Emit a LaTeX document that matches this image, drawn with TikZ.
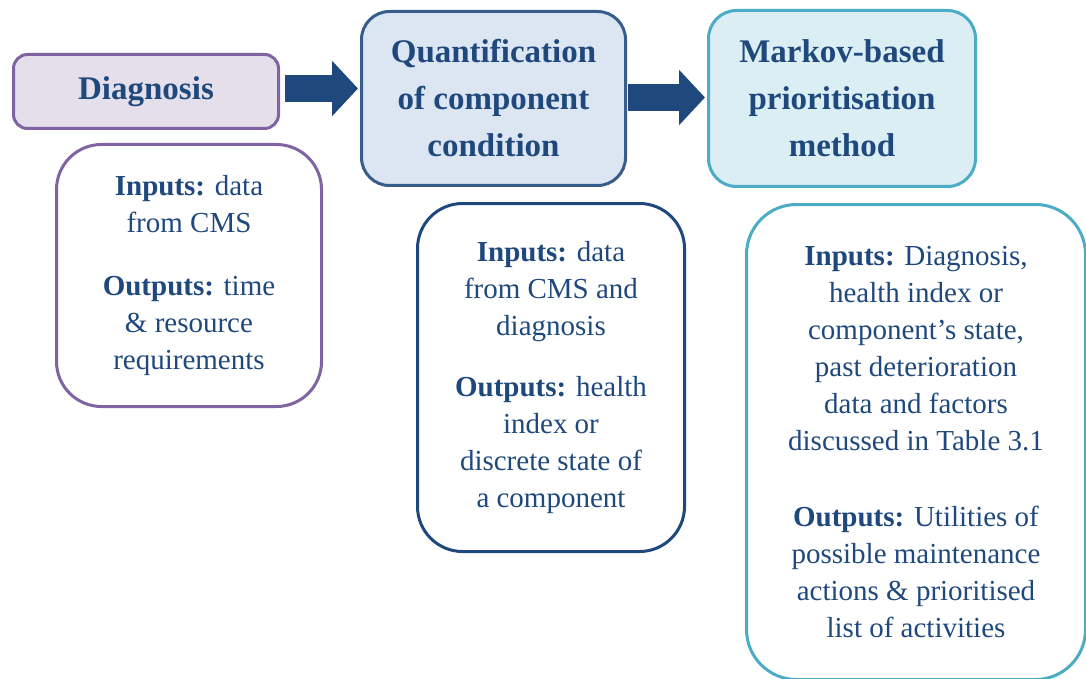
\documentclass[tikz,border=0pt]{standalone}
\usepackage{fontspec}
\setmainfont{Liberation Serif}
\usetikzlibrary{arrows.meta}
\definecolor{txt}{HTML}{1F497D}
\definecolor{purpleline}{HTML}{8064A2}
\definecolor{purplefill}{HTML}{E5DFEC}
\definecolor{navyline}{HTML}{385D8A}
\definecolor{navyfill}{HTML}{DCE6F2}
\definecolor{navydark}{HTML}{1F497D}
\definecolor{tealline}{HTML}{4BACC6}
\definecolor{tealfill}{HTML}{DAEEF3}
\definecolor{arrowcol}{HTML}{1F497D}
\tikzset{
  titlebox/.style={draw, line width=3pt, inner sep=0pt, align=center, text=txt,
    font=\fontsize{33}{47}\selectfont\bfseries},
  detailbox/.style={draw, fill=white, line width=3pt, inner sep=0pt, align=center, text=txt,
    rounded corners=45pt, font=\fontsize{29}{37}\selectfont},
  fatarrow/.style={draw=arrowcol, line width=27pt,
    -{Triangle[length=26pt,width=54pt]}}
}
\begin{document}
\begin{tikzpicture}[x=1pt,y=-1pt]
\useasboundingbox (0,0) rectangle (1086,679);
% title boxes
\node[titlebox, fill=purplefill, draw=purpleline, rounded corners=14pt,
  minimum width=265pt, minimum height=74pt] (diag) at (146,91.5) {Diagnosis};
\node[titlebox, fill=navyfill, draw=navyline, rounded corners=28pt,
  minimum width=264pt, minimum height=174pt] (quant) at (493.5,98.5)
  {Quantification\\of component\\condition};
\node[titlebox, fill=tealfill, draw=tealline, rounded corners=28pt,
  minimum width=267pt, minimum height=176pt] (markov) at (842,98.5)
  {Markov-based\\prioritisation\\method};
% detail boxes
\node[detailbox, draw=purpleline, minimum width=265pt, minimum height=262pt] (d1) at (189,275.5)
  {\textbf{Inputs:} data\\from CMS\\[26pt]\textbf{Outputs:} time\\\& resource\\requirements};
\node[detailbox, draw=navydark, minimum width=267pt, minimum height=348pt] (d2) at (551,377.5)
  {\textbf{Inputs:} data\\from CMS and\\diagnosis\\[24pt]\textbf{Outputs:} health\\index or\\discrete state of\\a component};
\node[detailbox, draw=tealline, rounded corners=50pt, minimum width=339pt, minimum height=475pt] (d3) at (916,442)
  {\textbf{Inputs:} Diagnosis,\\health index or\\component’s state,\\past deterioration\\data and factors\\discussed in Table 3.1\\[39pt]\textbf{Outputs:} Utilities of\\possible maintenance\\actions \& prioritised\\list of activities};
% arrows
\draw[fatarrow] ([shift={(5,-3)}]diag.east) -- ([shift={(-2,-3)}]diag.east -| quant.west);
\draw[fatarrow] ([shift={(1,-1)}]quant.east) -- ([shift={(-2,-1)}]quant.east -| markov.west);
\end{tikzpicture}
\end{document}
